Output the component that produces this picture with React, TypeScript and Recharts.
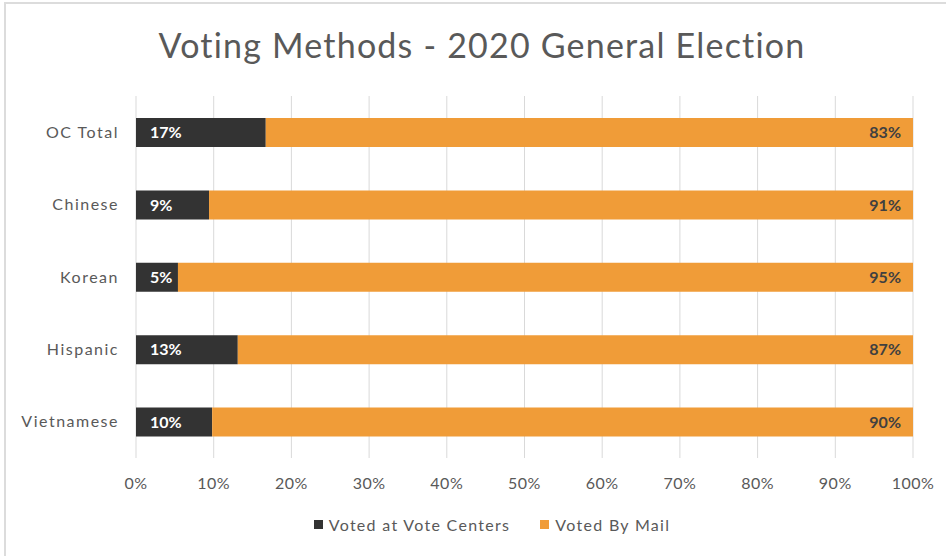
import React from 'react';
import {
  BarChart,
  Bar,
  XAxis,
  YAxis,
  CartesianGrid,
  LabelList,
  Legend,
} from 'recharts';

const groups = ['OC Total', 'Chinese', 'Korean', 'Hispanic', 'Vietnamese'];
const voteCenters = [16.7, 9.4, 5.4, 13.1, 9.8];
const byMail = [83.3, 90.6, 94.6, 86.9, 90.2];
const xTicks = [0, 10, 20, 30, 40, 50, 60, 70, 80, 90, 100];

const data = groups.map((g, i) => ({
  group: g,
  center: voteCenters[i],
  mail: byMail[i],
}));

const FONT = 'Lato, "Liberation Sans", sans-serif';
const DARK = '#333333';
const ORANGE = '#F09C38';

const pct = (v: any) => Math.round(Number(v)) + '%';

const legendContent = () => (
  <div
    style={{
      display: 'flex',
      justifyContent: 'center',
      gap: 30,
      fontFamily: FONT,
      fontSize: 16,
      letterSpacing: 1.3,
      color: '#595959',
      height: 40,
      paddingLeft: 55,
    }}
  >
    {[
      ['Voted at Vote Centers', DARK],
      ['Voted By Mail', ORANGE],
    ].map(([name, c]) => (
      <div key={name} style={{ display: 'flex', alignItems: 'center', height: 17 }}>
        <span style={{ width: 9, height: 9, background: c, marginRight: 6 }} />
        {name}
      </div>
    ))}
  </div>
);

export default function App() {
  return (
    <div style={{ position: 'absolute', left: 0, top: 0, width: 946, height: 556, background: '#fff' }}>
      <div
        style={{
          position: 'absolute',
          left: 4,
          top: 2,
          width: 942,
          height: 554,
          borderTop: '2px solid #dcdcdc',
          borderLeft: '2px solid #dcdcdc',
        }}
      />
      <div
        style={{
          position: 'absolute',
          left: 0,
          top: 24,
          width: 964,
          textAlign: 'center',
          fontFamily: FONT,
          fontSize: 34,
          letterSpacing: 1.2,
          color: '#595959',
          zIndex: 2,
        }}
      >
        Voting Methods - 2020 General Election
      </div>
      <BarChart
        width={946}
        height={556}
        data={data}
        layout="vertical"
        margin={{ top: 96, right: 33, bottom: 0, left: 16 }}
        barSize={29}
      >
        <CartesianGrid horizontal={false} stroke="#d9d9d9" />
        <XAxis
          type="number"
          domain={[0, 100]}
          ticks={xTicks}
          tickFormatter={(v) => v + '%'}
          axisLine={false}
          tickLine={false}
          tickSize={0}
          tickMargin={20}
          height={58}
          tick={{ fontFamily: FONT, fontSize: 16, letterSpacing: 0.5, fill: '#595959' }}
          interval={0}
        />
        <YAxis
          type="category"
          dataKey="group"
          width={120}
          axisLine={false}
          tickLine={false}
          tickSize={0}
          tickMargin={17}
          tick={{ fontFamily: FONT, fontSize: 16, letterSpacing: 1.5, fill: '#595959' }}
        />
        <Legend verticalAlign="bottom" content={legendContent} />
        <Bar dataKey="center" stackId="a" fill={DARK} isAnimationActive={false}>
          <LabelList
            dataKey="center"
            position="insideLeft"
            offset={14}
            formatter={pct}
            fill="#ffffff"
            style={{ fontFamily: FONT, fontSize: 16, fontWeight: 700 }}
          />
        </Bar>
        <Bar dataKey="mail" stackId="a" fill={ORANGE} isAnimationActive={false}>
          <LabelList
            dataKey="mail"
            position="insideRight"
            offset={12}
            formatter={pct}
            fill="#404040"
            style={{ fontFamily: FONT, fontSize: 16, fontWeight: 700 }}
          />
        </Bar>
      </BarChart>
    </div>
  );
}
